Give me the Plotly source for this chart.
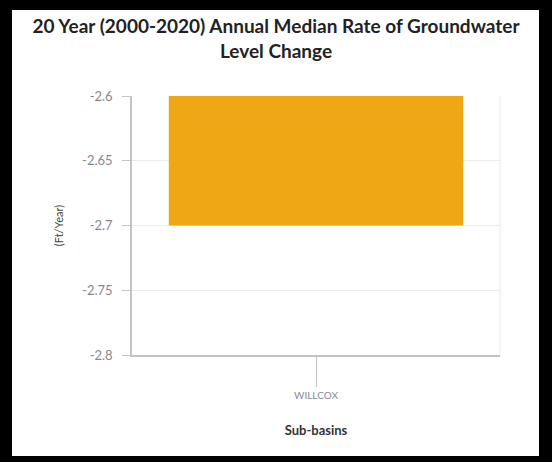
import plotly.graph_objects as go

sub_basins = ["WILLCOX"]
median_rate = [-2.7]
y_tick_vals = [-2.8, -2.75, -2.7, -2.65, -2.6]
y_tick_text = ["-2.8", "-2.75", "-2.7", "-2.65", "-2.6"]

W, H = 552, 462
L, R, T, B = 132, 52, 96, 107
pw, ph = W - L - R, H - T - B

def px_x(px):
    return (px - L) / pw

def px_y(py):
    return (H - B - py) / ph

fig = go.Figure()
fig.add_trace(go.Bar(x=sub_basins, y=median_rate, marker=dict(color="#F0A714", line=dict(width=0)),
                     hoverinfo="x+y"))

fig.update_layout(
    width=W, height=H,
    margin=dict(l=L, r=R, t=T, b=B, pad=0),
    paper_bgcolor="black",
    plot_bgcolor="white",
    bargap=0.2,
    showlegend=False,
    font=dict(family="Lato, 'Open Sans', sans-serif"),
    title=dict(
        text="<b>20 Year (2000-2020) Annual Median Rate of Groundwater<br>Level Change</b>",
        x=276 / W, xref="container", xanchor="center",
        y=1 - 33 / H, yref="container", yanchor="middle",
        font=dict(size=19, color="#222222", family="Lato, sans-serif"),
    ),
    xaxis=dict(
        title=dict(text="<b>Sub-basins</b>", font=dict(size=13, color="#333333"), standoff=26),
        showline=True, linecolor="#c4c4c4", linewidth=1.5,
        ticks="outside", ticklen=30, tickcolor="#c4c4c4", tickwidth=1,
        tickfont=dict(size=10, color="#8a8a96"),
        showgrid=False, zeroline=False,
    ),
    yaxis=dict(
        title=dict(text="(Ft/Year)", font=dict(size=11, color="#444444"), standoff=16),
        range=[-2.8, -2.6],
        tickvals=y_tick_vals, ticktext=y_tick_text,
        showline=True, linecolor="#c4c4c4", linewidth=1.5,
        ticks="outside", ticklen=8, tickcolor="#c4c4c4",
        ticklabelstandoff=7,
        tickfont=dict(size=13, color="#888888"),
        showgrid=True, gridcolor="#ebebeb", gridwidth=1,
        zeroline=False,
    ),
    shapes=[
        dict(type="rect", xref="paper", yref="paper", layer="below",
             x0=px_x(12), x1=px_x(539), y0=px_y(456), y1=px_y(10),
             fillcolor="white", line=dict(width=0)),
        dict(type="line", xref="paper", yref="paper", layer="below",
             x0=1, x1=1, y0=0, y1=1, line=dict(color="#ebebeb", width=1)),
    ],
)

fig.write_html("out.html", config={"displayModeBar": False},
               post_script="document.body.style.margin='0';")
